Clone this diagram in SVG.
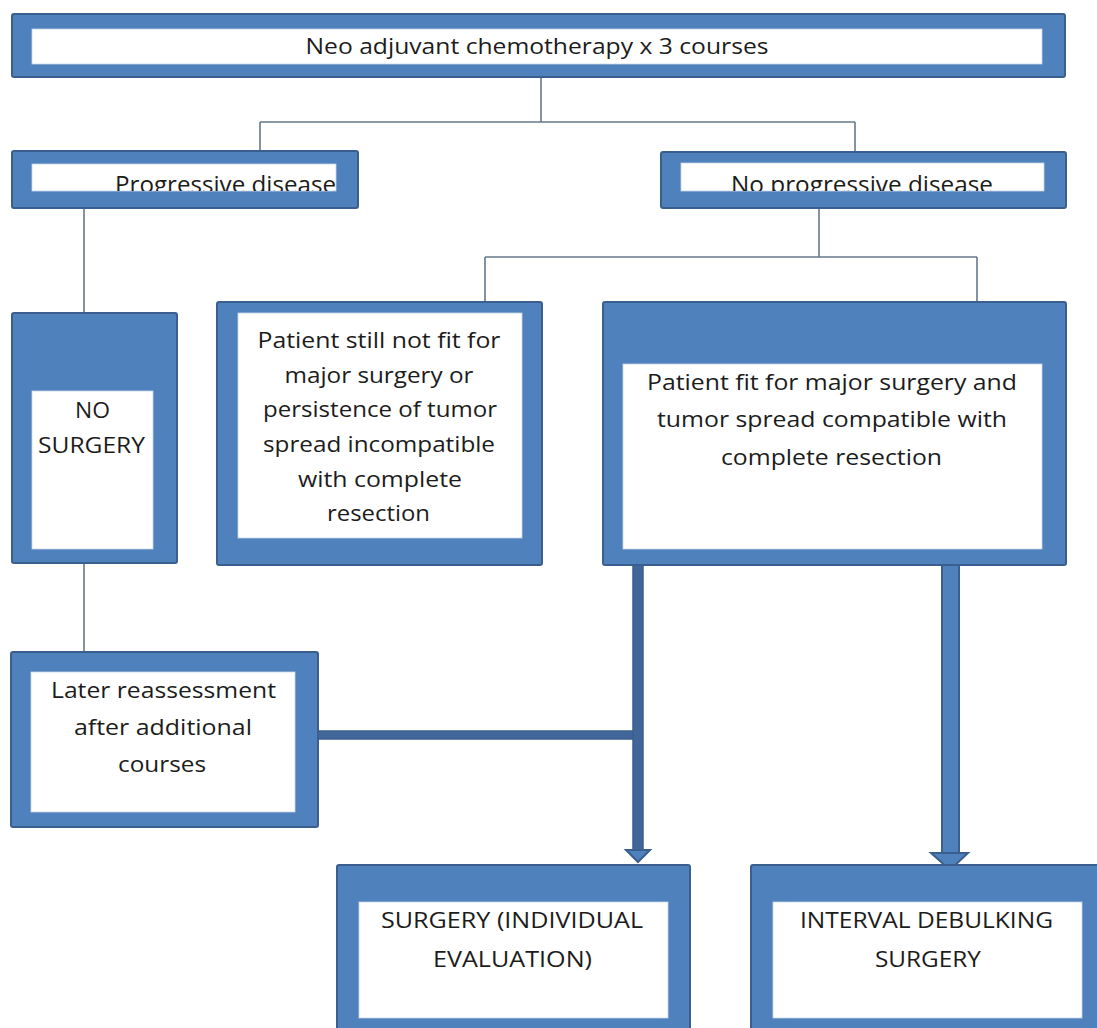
<svg xmlns="http://www.w3.org/2000/svg" width="1097" height="1028" viewBox="0 0 1097 1028">
<style>
.outer{fill:#4f81bd;stroke:#3a5f8e;stroke-width:2}
.inner{fill:#ffffff;stroke:#c9d6e8;stroke-width:0.8}
.t{font-family:"Open Sans","Liberation Sans",sans-serif;fill:#1c1c1c;text-anchor:middle}
.thin{fill:none;stroke:#66788c;stroke-width:1.6}
.thick{fill:#4f81bd;stroke:#3a5f8e;stroke-width:2}
.dark{fill:#41679a;stroke:#3a5f8e;stroke-width:1.5}
</style>
<defs>
<clipPath id="cp-prog"><rect x="32" y="163" width="304" height="28"/></clipPath>
<clipPath id="cp-noprog"><rect x="681" y="163" width="363" height="28"/></clipPath>
</defs>
<rect width="1097" height="1028" fill="#ffffff"/>

<g id="connectors">
<path class="thin" d="M541 77V122M260 122H855M260 122V151M855 122V152"/>
<path class="thin" d="M84 208V313M84 563V652"/>
<path class="thin" d="M819 208V257M485 257H977M485 257V302M977 257V302"/>
<rect class="dark" x="318" y="731" width="318" height="8"/>
<rect class="dark" x="633" y="550" width="10" height="301"/>
<polygon class="thick" points="626,850 650,850 638,862"/>
<rect class="thick" x="942" y="560" width="17" height="294"/>
<polygon class="thick" points="931,853 968,853 950,870"/>
</g>

<g id="node-neo">
<rect class="outer" x="12" y="14" width="1053" height="63" rx="2"/>
<rect class="inner" x="32" y="29" width="1010" height="35"/>
<text class="t" x="537" y="54" font-size="21" textLength="463" lengthAdjust="spacingAndGlyphs">Neo adjuvant chemotherapy x 3 courses</text>
</g>

<g id="node-progressive">
<rect class="outer" x="12" y="151" width="346" height="57" rx="2"/>
<rect class="inner" x="32" y="164" width="304" height="27"/>
<text class="t" x="225.5" y="193" font-size="23" textLength="221" lengthAdjust="spacingAndGlyphs" clip-path="url(#cp-prog)">Progressive disease</text>
</g>

<g id="node-no-progressive">
<rect class="outer" x="661" y="152" width="405" height="56" rx="2"/>
<rect class="inner" x="681" y="163" width="363" height="28"/>
<text class="t" x="862" y="193" font-size="23" textLength="262" lengthAdjust="spacingAndGlyphs" clip-path="url(#cp-noprog)">No progressive disease</text>
</g>

<g id="node-no-surgery">
<rect class="outer" x="12" y="313" width="165" height="250" rx="2"/>
<rect class="inner" x="32" y="391" width="121" height="158"/>
<text class="t" x="92.5" y="418" font-size="22" textLength="35" lengthAdjust="spacingAndGlyphs">NO</text>
<text class="t" x="91.5" y="453" font-size="22" textLength="107" lengthAdjust="spacingAndGlyphs">SURGERY</text>
</g>

<g id="node-not-fit">
<rect class="outer" x="217" y="302" width="325" height="263" rx="2"/>
<rect class="inner" x="238" y="313" width="284" height="225"/>
<text class="t" x="379" y="348" font-size="22" textLength="243" lengthAdjust="spacingAndGlyphs">Patient still not fit for</text>
<text class="t" x="379" y="383" font-size="22" textLength="189" lengthAdjust="spacingAndGlyphs">major surgery or</text>
<text class="t" x="380" y="417" font-size="22" textLength="234" lengthAdjust="spacingAndGlyphs">persistence of tumor</text>
<text class="t" x="379" y="452" font-size="22" textLength="232" lengthAdjust="spacingAndGlyphs">spread incompatible</text>
<text class="t" x="380" y="487" font-size="22" textLength="164" lengthAdjust="spacingAndGlyphs">with complete</text>
<text class="t" x="378.5" y="521" font-size="22" textLength="103" lengthAdjust="spacingAndGlyphs">resection</text>
</g>

<g id="node-fit">
<rect class="outer" x="603" y="302" width="463" height="263" rx="2"/>
<rect class="inner" x="623" y="364" width="419" height="185"/>
<text class="t" x="832" y="390" font-size="22" textLength="370" lengthAdjust="spacingAndGlyphs">Patient fit for major surgery and</text>
<text class="t" x="832" y="427" font-size="22" textLength="350" lengthAdjust="spacingAndGlyphs">tumor spread compatible with</text>
<text class="t" x="831.5" y="465" font-size="22" textLength="221" lengthAdjust="spacingAndGlyphs">complete resection</text>
</g>

<g id="node-later">
<rect class="outer" x="11" y="652" width="307" height="175" rx="2"/>
<rect class="inner" x="31" y="672" width="264" height="140"/>
<text class="t" x="163.5" y="698" font-size="22" textLength="225" lengthAdjust="spacingAndGlyphs">Later reassessment</text>
<text class="t" x="163" y="735" font-size="22" textLength="178" lengthAdjust="spacingAndGlyphs">after additional</text>
<text class="t" x="162" y="772" font-size="22" textLength="88" lengthAdjust="spacingAndGlyphs">courses</text>
</g>

<g id="node-surgery-individual">
<rect class="outer" x="337" y="865" width="353" height="175" rx="2"/>
<rect class="inner" x="359" y="902" width="309" height="116"/>
<text class="t" x="512" y="928" font-size="21" textLength="262" lengthAdjust="spacingAndGlyphs">SURGERY (INDIVIDUAL</text>
<text class="t" x="512.5" y="967" font-size="21" textLength="159" lengthAdjust="spacingAndGlyphs">EVALUATION)</text>
</g>

<g id="node-interval">
<rect class="outer" x="751" y="865" width="356" height="175" rx="2"/>
<rect class="inner" x="773" y="902" width="309" height="116"/>
<text class="t" x="926.5" y="928" font-size="21" textLength="253" lengthAdjust="spacingAndGlyphs">INTERVAL DEBULKING</text>
<text class="t" x="928" y="967" font-size="21" textLength="106" lengthAdjust="spacingAndGlyphs">SURGERY</text>
</g>
</svg>
